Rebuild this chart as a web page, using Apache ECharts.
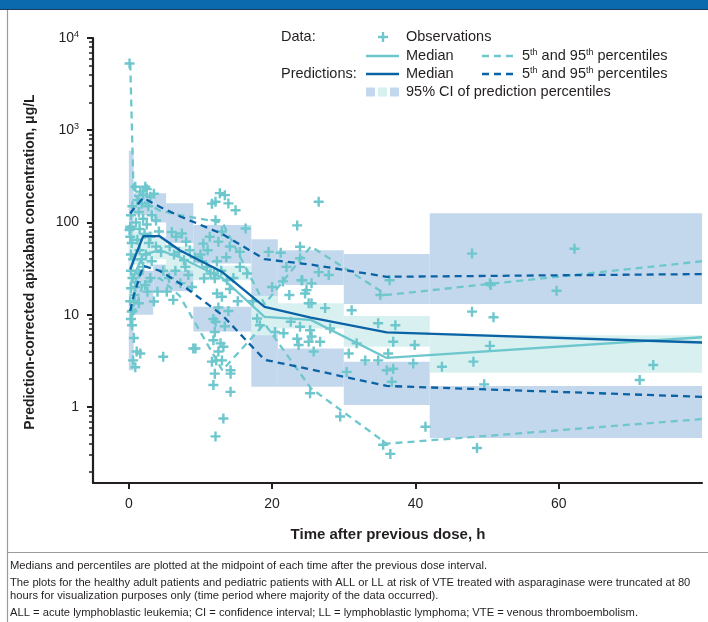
<!DOCTYPE html>
<html>
<head>
<meta charset="utf-8">
<script src="https://cdn.jsdelivr.net/npm/echarts@6.0.0/dist/echarts.min.js"></script>
<style>
  html, body { margin: 0; padding: 0; background: #fff; }
  #chart { width: 708px; height: 622px; }
</style>
</head>
<body>
<div id="chart"></div>
<script>
// bins of time after previous dose (h), used for the CI boxes
const binEdges = [0, 0.67, 3.4, 5.2, 9, 17.1, 20.8, 30, 42, 80];
// times where the percentile lines have their vertices (last one = truncation at 80 h)
const tMid = [0.2, 0.67, 2.0, 4.3, 7.1, 13.05, 18.95, 25.4, 36, 80];

const obsMedian = [21, 26, 45, 50, 42, 25, 9.5, 8.8, 3.4, 5.7];
const obsP05 = [7.5, 10, 22, 25, 16, 2.5, 8, 1.6, 0.4, 0.74];
const obsP95 = [5300, 200, 170, 135, 120, 100, 13, 55, 16.4, 38];
const predMedian = [31, 39, 71, 71, 50, 29, 12.2, 9.3, 6.45, 5.0];
const predP05 = [11, 16, 34, 30, 22, 9.9, 3.25, 2.55, 1.69, 1.29];
const predP95 = [125, 140, 185, 148, 117, 75, 40, 35, 25.8, 27.6];

// 95% CI of prediction percentiles, one entry per bin
const ciP95Lo = [30, 120, 100, 60, 36, 9, 21, 13.1, 13.1];
const ciP95Hi = [600, 208, 208, 162, 94, 66, 50, 45.5, 126];
const ciMedLo = [12, 35, 40, 30, 23.7, 6, 7.1, 4.5, 2.35];
const ciMedHi = [60, 80, 70, 55, 34, 16, 13.3, 9.7, 6.0];
const ciP05Lo = [2.5, 10, 18, 18, 6.6, 1.66, 1.66, 1.05, 0.46];
const ciP05Hi = [20, 30, 35, 36, 12.2, 12, 4.3, 3.1, 1.69];

// observations
const obsTime = [
  0.1, 0.2, 0.3, 0.5, 0.2, 0.4, 0.3, 0.6, 0.3, 0.5, 0.3, 0.8, 0.2, 0.7, 0.5, 0.4, 0.3, 0.45, 0.7, 1.1, 1.6, 0.9, 0.6, 0.9, 1.0,
  0.9, 2.3, 1.6, 3.0, 1.2, 2.5, 2.0, 3.5, 1.8, 2.7, 1.4, 3.2, 2.0, 1.0, 2.5, 3.8, 1.5, 0.2, 0.1, 2.2, 3.0, 4.2, 1.2, 2.8, 3.8,
  1.5, 2.4, 4.5, 1.8, 3.2, 2.0, 4.8, 1.4, 3.0, 2.3, 4.0, 1.4, 3.5, 2.6, 5.3, 4.8,
  6.0, 7.4, 6.6, 8.0, 5.7, 7.0, 8.5, 6.3, 7.7, 9.2, 7.9, 6.5, 8.3, 5.6, 7.2, 8.8, 6.2, 9.0,
  12.7, 13.4, 12.1, 13.9, 14.9, 16.3, 12.1, 11.6, 10.4, 11.0, 10.0, 12.5, 11.3, 13.0, 14.1, 15.5, 12.3, 13.6, 10.9, 11.4,
  12.9, 14.6, 12.0, 10.5, 11.9, 13.7, 12.3, 13.0, 14.1, 15.2, 12.5, 13.9, 11.8, 12.1, 13.4, 12.0, 11.8, 12.8, 13.2, 12.5,
  11.6, 12.2, 13.0, 14.2, 12.0, 14.2, 11.8, 14.2, 13.2, 12.1, 9.3, 15.5, 16.5, 10.2,
  17.9, 18.3, 20.4, 17.3, 19.5, 20.0,
  23.5, 26.5, 23.9, 23.9, 24.1, 25.5, 26.5, 27.9, 22.4, 24.6, 25.5, 27.4, 21.6, 22.6, 23.9, 25.3, 25.5, 25.1, 23.5, 23.7,
  24.8, 24.2, 25.1, 26.7, 25.8, 28.1, 25.3, 29.5, 21.5, 22.0, 21.2,
  31.1, 31.8, 30.7, 30.4, 33.0, 34.8, 37.2, 36.9, 36.2, 36.9, 34.8, 36.0, 36.7, 35.5, 36.5, 39.9, 39.7, 36.4, 35.1,
  43.7, 41.4, 47.9, 47.9, 48.1, 48.6, 50.4, 50.9, 50.4, 49.6, 59.7, 62.2, 71.3, 73.2, 50.5
];
const obsConc = [
  5300, 90, 120, 150, 70, 60, 45, 40, 30, 25, 19.4, 16.4, 14, 13.9, 11, 10.8, 9, 7.7, 5.6, 4.0, 3.8, 2.7, 3.2, 20, 22.5,
  244, 244, 216, 190, 175, 230, 200, 205, 160, 150, 130, 120, 110, 100, 95, 105, 85, 86, 83, 75, 70, 80, 65, 60, 55,
  50, 45, 48, 40, 38, 33, 30, 28, 25, 21, 17.8, 13.3, 13.9, 17.8, 17.8, 3.5,
  79, 76, 70, 62, 55, 48, 50, 45, 39, 42, 33, 30, 27, 25, 22, 20, 14.5, 4.3,
  208, 198, 168, 161, 136, 86, 106, 160, 59, 50, 45, 62, 70, 80, 55, 48, 38, 42, 33, 28,
  30, 25, 24.8, 24.8, 28, 23.7, 17, 15.7, 19, 14, 12, 11, 9, 8.4, 7.5, 6.5, 5.3, 4.9, 4.5, 4.0,
  3.1, 3.2, 3.2, 2.5, 2.3, 2.3, 1.73, 1.46, 0.75, 0.48, 4.3, 33, 28, 38,
  9.1, 7.7, 6.5, 14, 48, 20,
  93, 168, 54.5, 41, 23.7, 21.9, 29, 27, 16.4, 17, 13.3, 11.8, 6.3, 8.4, 7.4, 6.8, 5.8, 5.1, 5.5, 4.7,
  18.5, 23.7, 13.3, 5.1, 4.0, 7.1, 1.41, 0.79, 23, 33, 47,
  11.2, 4.9, 3.8, 2.4, 3.2, 8.1, 7.7, 5.1, 3.8, 2.6, 3.2, 2.5, 1.88, 0.39, 0.31, 4.7, 2.97, 23.7, 16.4,
  2.73, 0.61, 46, 10.8, 3.1, 0.36, 22, 9.4, 4.6, 1.76, 18.2, 52, 1.96, 2.85, 21
];

const xTicks = [0, 20, 40, 60];
const yTicks = [1, 10, 100, 1000, 10000];
const yMinorTicks = [0.2, 0.3, 0.4, 0.5, 0.6, 0.7, 0.8, 0.9, 2, 3, 4, 5, 6, 7, 8, 9,
  20, 30, 40, 50, 60, 70, 80, 90, 200, 300, 400, 500, 600, 700, 800, 900,
  2000, 3000, 4000, 5000, 6000, 7000, 8000, 9000];

const FONT = '"Liberation Sans", Arial, sans-serif';
const INK = '#231f20';
const CYAN = '#6dc7cd';
const DARK = '#0b63a6';
const CI_BLUE = '#c3d8ec';
const CI_CYAN = '#d9f0f1';
const DASH = [7, 5];

var chart = echarts.init(document.getElementById('chart'));

function boxSeries(lo, hi, color) {
    return {
        type: 'custom',
        z: 1,
        data: lo.map((v, i) => [binEdges[i], binEdges[i + 1], v, hi[i]]),
        encode: { x: [0, 1], y: [2, 3] },
        renderItem: function (params, api) {
            const p0 = api.coord([api.value(0), api.value(3)]);
            const p1 = api.coord([api.value(1), api.value(2)]);
            return {
                type: 'rect',
                shape: { x: p0[0], y: p0[1], width: p1[0] - p0[0], height: p1[1] - p0[1] },
                style: { fill: color }
            };
        },
        silent: true
    };
}

function lineSeries(values, color, dashed) {
    return {
        type: 'line',
        z: 4,
        symbol: 'none',
        data: tMid.map((t, i) => [t, values[i]]),
        lineStyle: { color: color, width: 2.3, type: dashed ? DASH : 'solid' },
        silent: true
    };
}

function legendText(x, y, text) {
    return {
        type: 'text', x: x, y: y,
        style: {
            text: text, font: '14.5px ' + FONT, fill: INK, verticalAlign: 'middle', align: 'left', lineHeight: 16,
            rich: { s: { fontSize: 9, fontFamily: FONT, fill: INK, verticalAlign: 'top', lineHeight: 10 } }
        }
    };
}
function legendLine(x, y, color, dashed) {
    return {
        type: 'line',
        shape: { x1: x, y1: y, x2: x + 33, y2: y },
        style: { stroke: color, lineWidth: 2.3, lineDash: dashed ? DASH : null }
    };
}
function footnote(y, text) {
    return { type: 'text', x: 10, y: y, style: { text: text, font: '11.2px ' + FONT, fill: INK, verticalAlign: 'middle' } };
}

var graphics = [
    // page chrome
    { type: 'rect', shape: { x: 0, y: 0, width: 708, height: 9 }, style: { fill: '#0b69ae' } },
    { type: 'line', shape: { x1: 0, y1: 9.5, x2: 708, y2: 9.5 }, style: { stroke: '#1d3c5a', lineWidth: 1 } },
    { type: 'line', shape: { x1: 7.5, y1: 10, x2: 7.5, y2: 622 }, style: { stroke: '#9b9b9b', lineWidth: 1.2 } },
    { type: 'line', shape: { x1: 7, y1: 552.5, x2: 708, y2: 552.5 }, style: { stroke: '#9b9b9b', lineWidth: 1.2 } },
    // axis titles
    { type: 'text', x: 30, y: 262, rotation: Math.PI / 2,
      style: { text: 'Prediction-corrected apixaban concentration, \u03bcg/L', font: 'bold 14px ' + FONT, fill: INK, align: 'center', verticalAlign: 'middle' } },
    { type: 'text', x: 388, y: 535,
      style: { text: 'Time after previous dose, h', font: 'bold 15px ' + FONT, fill: INK, align: 'center', verticalAlign: 'middle' } },
    // legend
    legendText(281, 37, 'Data:'),
    { type: 'rect', shape: { x: 378, y: 35.8, width: 10, height: 2.4 }, style: { fill: CYAN } },
    { type: 'rect', shape: { x: 381.8, y: 32, width: 2.4, height: 10 }, style: { fill: CYAN } },
    legendText(406, 37, 'Observations'),
    legendLine(366, 56, CYAN, false),
    legendText(406, 56, 'Median'),
    legendLine(482, 56, CYAN, true),
    legendText(522, 56, '5{s|th} and 95{s|th} percentiles'),
    legendText(281, 74, 'Predictions:'),
    legendLine(366, 74, DARK, false),
    legendText(406, 74, 'Median'),
    legendLine(482, 74, DARK, true),
    legendText(522, 74, '5{s|th} and 95{s|th} percentiles'),
    { type: 'rect', shape: { x: 366, y: 87.5, width: 9, height: 9 }, style: { fill: CI_BLUE } },
    { type: 'rect', shape: { x: 378, y: 87.5, width: 9, height: 9 }, style: { fill: CI_CYAN } },
    { type: 'rect', shape: { x: 390, y: 87.5, width: 9, height: 9 }, style: { fill: CI_BLUE } },
    legendText(406, 92, '95% CI of prediction percentiles'),
    // footnotes
    footnote(566, 'Medians and percentiles are plotted at the midpoint of each time after the previous dose interval.'),
    footnote(583, 'The plots for the healthy adult patients and pediatric patients with ALL or LL at risk of VTE treated with asparaginase were truncated at 80'),
    footnote(596, 'hours for visualization purposes only (time period where majority of the data occurred).'),
    footnote(613, 'ALL = acute lymphoblastic leukemia; CI = confidence interval; LL = lymphoblastic lymphoma; VTE = venous thromboembolism.')
];

var option = {
    animation: false,
    backgroundColor: '#fff',
    grid: { left: 93, right: 6, top: 38, bottom: 139 },
    xAxis: {
        type: 'value',
        min: -5,
        max: 80,
        axisLine: { onZero: false, lineStyle: { color: INK, width: 2.2 } },
        axisTick: { customValues: xTicks, length: 6, lineStyle: { color: INK, width: 2 } },
        axisLabel: { customValues: xTicks, fontSize: 14, fontFamily: FONT, color: INK, margin: 14 },
        splitLine: { show: false }
    },
    yAxis: [{
        type: 'log',
        logBase: 10,
        min: 0.15,
        max: 10000,
        axisLine: { show: true, onZero: false, lineStyle: { color: INK, width: 2.2 } },
        axisTick: { customValues: yTicks, length: 6, lineStyle: { color: INK, width: 2 } },
        axisLabel: {
            customValues: yTicks,
            margin: 14,
            formatter: function (v) {
                if (v >= 1000) return '{n|10}{s|' + Math.round(Math.log10(v)) + '}';
                return '{n|' + v + '}';
            },
            rich: {
                n: { fontSize: 14, fontFamily: FONT, color: INK, lineHeight: 16 },
                s: { fontSize: 9, fontFamily: FONT, color: INK, verticalAlign: 'top', lineHeight: 10 }
            }
        },
        splitLine: { show: false }
    }, {
        type: 'log',
        logBase: 10,
        min: 0.15,
        max: 10000,
        position: 'left',
        axisLine: { show: false, onZero: false },
        axisTick: { customValues: yMinorTicks, length: 4, lineStyle: { color: INK, width: 1.5 } },
        axisLabel: { show: false },
        splitLine: { show: false }
    }],
    series: [
        boxSeries(ciP95Lo, ciP95Hi, CI_BLUE),
        boxSeries(ciP05Lo, ciP05Hi, CI_BLUE),
        boxSeries(ciMedLo, ciMedHi, CI_CYAN),
        {
            type: 'scatter',
            z: 3,
            symbol: 'path://M3.8,0H6.2V3.8H10V6.2H6.2V10H3.8V6.2H0V3.8H3.8Z',
            symbolSize: 10,
            itemStyle: { color: CYAN, opacity: 1 },
            data: obsTime.map((t, i) => [t, obsConc[i]]),
            silent: true
        },
        lineSeries(obsMedian, CYAN, false),
        lineSeries(obsP05, CYAN, true),
        lineSeries(obsP95, CYAN, true),
        lineSeries(predMedian, DARK, false),
        lineSeries(predP05, DARK, true),
        lineSeries(predP95, DARK, true)
    ],
    graphic: graphics
};

chart.setOption(option);
</script>
</body>
</html>
